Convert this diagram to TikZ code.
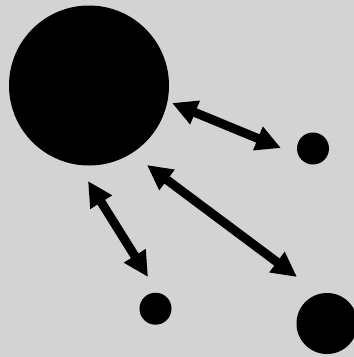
\documentclass[tikz,border=0pt]{standalone}
\usetikzlibrary{arrows.meta}
\begin{document}
\begin{tikzpicture}[x=1pt,y=-1pt,
  ball/.style={circle,fill=black,inner sep=0pt,minimum size=#1},
  dblarrow/.style={line width=9pt,{Triangle[length=25pt,width=24pt]}-{Triangle[length=25pt,width=24pt]}}]
\definecolor{bg}{RGB}{211,211,211}
\fill[bg] (0,0) rectangle (354,357);
\useasboundingbox (0,0) rectangle (354,357);
\node[ball=160pt] (big) at (89,85.5) {};
\node[ball=32pt] (sr) at (313,148.5) {};
\node[ball=32pt] (sb) at (155.5,308.7) {};
\node[ball=61pt] (med) at (327,323.5) {};
\coordinate (a1s) at (172,103);
\coordinate (a1e) at (281,148);
\coordinate (a2s) at (88,181);
\coordinate (a2e) at (148,277);
\coordinate (a3s) at (147,165);
\coordinate (a3e) at (297,277);
\draw[dblarrow] (a1s) -- (a1e);
\draw[dblarrow] (a2s) -- (a2e);
\draw[dblarrow] (a3s) -- (a3e);
\end{tikzpicture}
\end{document}
